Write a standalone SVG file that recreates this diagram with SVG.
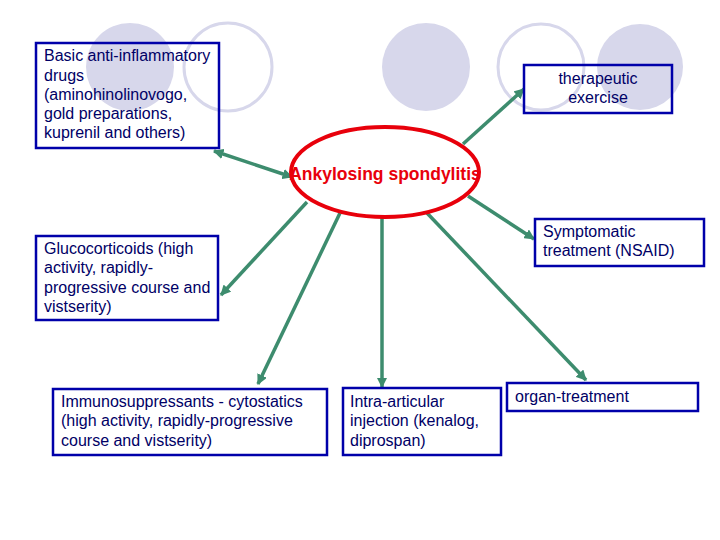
<svg xmlns="http://www.w3.org/2000/svg" width="720" height="540" viewBox="0 0 720 540">
<style>
.bg{fill:#d7d7eb}
.ring{fill:none;stroke:#d7d7eb;stroke-width:3}
.box{fill:none;stroke:#0000aa;stroke-width:2.5}
.t{font-family:"Liberation Sans",Arial,sans-serif;font-size:16px;fill:#000066}
.c{stroke:#3d8c6e;stroke-width:3.5;fill:none}
</style>
<defs>
<marker id="ah" viewBox="0 0 10 10" refX="9" refY="5" markerWidth="3" markerHeight="3" orient="auto-start-reverse" markerUnits="strokeWidth">
<path d="M0,0 L10,5 L0,10 z" fill="#3d8c6e"/>
</marker>
</defs>
<g id="decor">
<circle class="bg" cx="130" cy="67" r="44"/>
<circle class="ring" cx="228" cy="67" r="44"/>
<circle class="bg" cx="426" cy="67" r="44"/>
<circle class="ring" cx="541" cy="67" r="43"/>
<circle class="bg" cx="640" cy="67" r="43"/>
</g>
<g id="connectors">
<line class="c" x1="292" y1="177" x2="214" y2="151" marker-start="url(#ah)" marker-end="url(#ah)"/>
<line class="c" x1="463" y1="144" x2="524" y2="89" marker-end="url(#ah)"/>
<line class="c" x1="468" y1="196" x2="534" y2="239" marker-end="url(#ah)"/>
<line class="c" x1="427" y1="213" x2="586" y2="380" marker-end="url(#ah)"/>
<line class="c" x1="382" y1="218" x2="382" y2="387" marker-end="url(#ah)"/>
<line class="c" x1="340" y1="213" x2="258" y2="384" marker-end="url(#ah)"/>
<line class="c" x1="307" y1="202" x2="221" y2="295" marker-end="url(#ah)"/>
</g>
<g id="basic">
<rect class="box" x="36" y="43" width="183" height="105"/>
<text class="t" x="44" y="61">Basic anti-inflammatory</text>
<text class="t" x="44" y="81">drugs</text>
<text class="t" x="44" y="100">(aminohinolinovogo,</text>
<text class="t" x="44" y="119">gold preparations,</text>
<text class="t" x="44" y="138">kuprenil and others)</text>
</g>
<g id="therapeutic">
<rect class="box" x="524" y="65" width="148" height="48"/>
<text class="t" x="598" y="84" text-anchor="middle">therapeutic</text>
<text class="t" x="598" y="103" text-anchor="middle">exercise</text>
</g>
<g id="center">
<ellipse cx="385" cy="172" rx="94" ry="45" fill="none" stroke="#e8000b" stroke-width="4"/>
<text x="385" y="180" text-anchor="middle" font-family="Liberation Sans,Arial,sans-serif" font-size="17.5" font-weight="bold" fill="#e8000b">Ankylosing spondylitis</text>
</g>
<g id="glucocorticoids">
<rect class="box" x="36" y="236" width="182" height="84"/>
<text class="t" x="44" y="254">Glucocorticoids (high</text>
<text class="t" x="44" y="273">activity, rapidly-</text>
<text class="t" x="44" y="293">progressive course and</text>
<text class="t" x="44" y="312">vistserity)</text>
</g>
<g id="symptomatic">
<rect class="box" x="535" y="219" width="169" height="47"/>
<text class="t" x="543" y="237">Symptomatic</text>
<text class="t" x="543" y="256">treatment (NSAID)</text>
</g>
<g id="immuno">
<rect class="box" x="53" y="389" width="274" height="66"/>
<text class="t" x="61" y="407">Immunosuppressants - cytostatics</text>
<text class="t" x="61" y="426">(high activity, rapidly-progressive</text>
<text class="t" x="61" y="446">course and vistserity)</text>
</g>
<g id="intra">
<rect class="box" x="343" y="388" width="158" height="67"/>
<text class="t" x="350" y="407">Intra-articular</text>
<text class="t" x="350" y="426">injection (kenalog,</text>
<text class="t" x="350" y="446">diprospan)</text>
</g>
<g id="organ">
<rect class="box" x="507" y="383" width="191" height="28"/>
<text class="t" x="515" y="402">organ-treatment</text>
</g>
</svg>
